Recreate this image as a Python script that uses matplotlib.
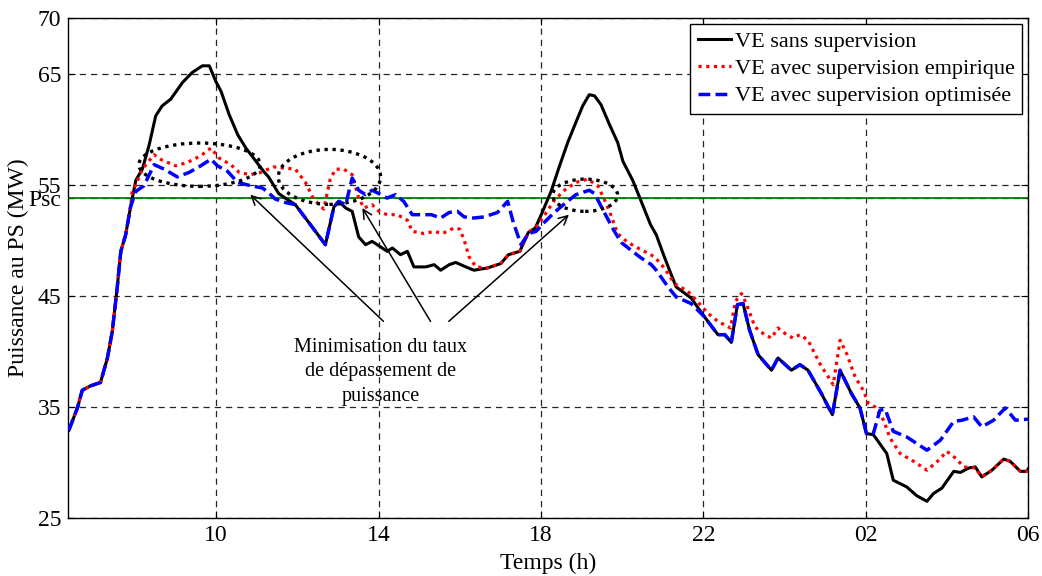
"""
Puissance au poste source - comparaison des strategies de supervision VE
"""
import matplotlib
matplotlib.use("Agg")
import matplotlib.pyplot as plt
from matplotlib.patches import Ellipse

# ==========================================================
# Data (hours since midnight, 24..30 = next morning)
# ==========================================================
t_common = [6.37, 6.58, 6.70, 6.91, 7.15, 7.32, 7.44, 7.56, 7.65, 7.77, 7.89]
p_common = [32.9, 34.9, 36.5, 36.9, 37.2, 39.4, 41.8, 45.7, 49.0, 50.5, 53.0]

t_sans = [8.02, 8.18, 8.35, 8.51, 8.67, 8.88, 9.17, 9.41, 9.66, 9.83, 9.99,
          10.12, 10.32, 10.53, 10.73, 10.98, 11.19, 11.29, 11.54, 11.70, 11.95,
          12.28, 12.69, 12.90, 13.02, 13.19, 13.35, 13.51, 13.68, 13.84, 14.05,
          14.21, 14.34, 14.54, 14.71, 14.87, 15.16, 15.37, 15.53, 15.74, 15.90,
          16.15, 16.35, 16.68, 17.01, 17.20, 17.48, 17.69, 17.86, 18.02, 18.25,
          18.45, 18.66, 18.86, 19.03, 19.19, 19.32, 19.48, 19.69, 19.89, 20.02,
          20.26, 20.47, 20.70, 20.84, 21.04, 21.33, 21.70, 22.03, 22.36, 22.53,
          22.69, 22.84, 22.98, 23.14, 23.35, 23.68, 23.84, 24.17, 24.38, 24.58,
          24.91, 25.18, 25.37, 25.65, 25.86, 26.02, 26.19, 26.52, 26.68, 27.01,
          27.26, 27.51, 27.67, 27.88, 28.17, 28.33, 28.54, 28.70, 28.86, 29.11,
          29.40, 29.56, 29.81, 29.98, 30.0]
p_sans = [55.4, 56.4, 58.6, 61.2, 62.1, 62.7, 64.2, 65.1, 65.7, 65.7, 64.3,
          63.4, 61.3, 59.5, 58.3, 57.1, 56.1, 55.7, 54.2, 53.8, 53.2,
          51.6, 49.6, 53.0, 53.5, 52.9, 52.6, 50.3, 49.6, 49.9, 49.4,
          49.0, 49.3, 48.7, 49.0, 47.6, 47.6, 47.8, 47.3, 47.8, 48.0,
          47.6, 47.3, 47.5, 47.9, 48.7, 49.0, 50.7, 51.1, 52.4, 54.4,
          56.6, 58.8, 60.6, 62.1, 63.1, 63.0, 62.2, 60.4, 58.8, 57.1,
          55.4, 53.5, 51.4, 50.5, 48.5, 45.8, 44.8, 43.1, 41.5, 41.5,
          40.8, 44.2, 44.3, 41.9, 39.7, 38.3, 39.4, 38.3, 38.8, 38.3,
          36.2, 34.3, 38.3, 36.2, 34.9, 32.6, 32.5, 30.8, 28.4, 27.8,
          27.0, 26.5, 27.2, 27.7, 29.2, 29.1, 29.5, 29.6, 28.7, 29.3,
          30.3, 30.1, 29.2, 29.2, 29.4]

t_emp = [7.93, 8.02, 8.18, 8.47, 8.67, 9.0, 9.29, 9.62, 9.87, 10.07, 10.36,
         10.57, 10.84, 11.09, 11.41, 11.66, 11.95, 12.20, 12.40, 12.65, 12.81,
         12.94, 13.14, 13.35, 13.51, 13.64, 13.84, 14.01, 14.21, 14.46, 14.71,
         14.83, 15.12, 15.37, 15.57, 15.86, 16.0, 16.11, 16.23, 16.40, 16.68,
         17.01, 17.20, 17.48, 17.69, 17.88, 18.08, 18.33, 18.58, 18.86, 19.15,
         19.40, 19.56, 19.73, 19.89, 20.14, 20.39, 20.60, 20.80, 21.04, 21.29,
         21.62, 21.83, 22.12, 22.36, 22.67, 22.79, 22.94, 23.06, 23.27, 23.51,
         23.68, 23.84, 24.05, 24.21, 24.38, 24.58, 24.87, 25.20, 25.37, 25.53,
         25.74, 25.94, 26.07, 26.23, 26.44, 26.60, 26.85, 27.18, 27.51, 27.80,
         28.0, 28.21, 28.42, 28.70, 28.86, 29.11, 29.40, 29.56, 29.81, 29.98,
         30.0]
p_emp = [54.4, 55.0, 56.4, 57.7, 57.2, 56.7, 57.0, 57.6, 58.3, 57.4, 56.8,
         56.1, 55.9, 56.1, 56.6, 56.5, 56.4, 55.2, 53.7, 52.8, 55.5,
         56.4, 56.4, 55.9, 53.8, 52.9, 53.2, 52.6, 52.3, 52.3, 51.8,
         50.8, 50.6, 50.8, 50.6, 51.1, 51.0, 50.0, 48.5, 47.6, 47.5,
         47.9, 48.7, 49.0, 50.7, 51.2, 52.2, 53.6, 54.5, 55.2, 55.5,
         54.9, 53.7, 52.2, 50.6, 49.8, 49.3, 48.9, 48.5, 47.5, 46.1,
         45.4, 44.6, 43.4, 42.7, 42.1, 44.5, 45.2, 44.3, 42.2, 41.5,
         41.2, 42.1, 41.5, 41.2, 41.5, 41.0, 38.9, 37.0, 41.0, 39.8,
         37.7, 36.5, 35.3, 35.0, 33.8, 32.2, 30.8, 30.1, 29.3, 30.2,
         31.0, 30.4, 29.6, 29.5, 28.7, 29.3, 30.3, 30.1, 29.2, 29.2,
         29.4]

t_opt = [8.02, 8.22, 8.47, 8.72, 9.04, 9.33, 9.62, 9.87, 10.03, 10.28, 10.53,
         10.86, 11.14, 11.25, 11.46, 11.70, 11.95, 12.28, 12.69, 12.90, 13.02,
         13.19, 13.35, 13.51, 13.68, 13.84, 14.01, 14.21, 14.42, 14.62, 14.83,
         15.08, 15.30, 15.53, 15.74, 15.94, 16.11, 16.35, 16.60, 16.93, 17.18,
         17.32, 17.51, 17.69, 17.88, 18.08, 18.33, 18.62, 18.86, 19.19, 19.32,
         19.56, 19.81, 19.98, 20.22, 20.47, 20.72, 20.84, 21.13, 21.33, 21.70,
         22.03, 22.36, 22.53, 22.69, 22.84, 22.98, 23.14, 23.35, 23.68, 23.84,
         24.17, 24.38, 24.58, 24.91, 25.18, 25.37, 25.65, 25.86, 26.02, 26.19,
         26.35, 26.48, 26.68, 27.01, 27.26, 27.51, 27.84, 28.17, 28.37, 28.66,
         28.86, 29.15, 29.44, 29.69, 30.0]
p_opt = [54.4, 54.9, 56.8, 56.4, 55.7, 56.1, 56.7, 57.3, 56.7, 56.2, 55.2,
         54.9, 54.7, 54.4, 53.7, 53.4, 53.2, 51.6, 49.6, 53.0, 53.5,
         53.2, 55.6, 54.5, 54.1, 54.5, 54.2, 53.8, 54.1, 53.5, 52.3,
         52.3, 52.3, 52.0, 52.5, 52.6, 52.1, 52.0, 52.1, 52.5, 53.5,
         51.6, 49.6, 50.6, 50.8, 51.6, 52.5, 53.4, 54.1, 54.5, 54.2,
         52.5, 50.8, 49.8, 49.1, 48.4, 47.8, 47.3, 45.8, 44.9, 44.3,
         43.1, 41.5, 41.5, 40.8, 44.2, 44.3, 41.9, 39.7, 38.3, 39.4,
         38.3, 38.8, 38.3, 36.2, 34.3, 38.3, 36.2, 34.9, 32.6, 32.6,
         34.7, 34.8, 32.8, 32.3, 31.7, 31.1, 32.0, 33.7, 33.8, 34.1,
         33.2, 33.8, 34.9, 33.8, 33.9]

psc = 53.8
x_ticks = [10, 14, 18, 22, 26, 30]
x_ticklabels = ["10", "14", "18", "22", "02", "06"]
y_ticks = [25, 35, 45, psc, 55, 65, 70]
y_ticklabels = ["25", "35", "45", "Psc", "55", "65", "70"]

# zones entourees (centre x, centre y, largeur, hauteur)
zones = [(9.59, 56.8, 2.99, 3.9), (12.79, 55.7, 2.52, 4.95), (19.09, 54.05, 1.6, 2.9)]
note = "Minimisation du taux\nde dépassement de\npuissance"

plt.rcParams["font.family"] = ["Liberation Serif", "DejaVu Serif"]

# Setting Fig
fig = plt.figure(figsize=(10.42, 5.76), dpi=100)
ax = fig.add_axes([0.0653, 0.1007, 0.9213, 0.868])

# ==========================================================
# Curves
# ==========================================================
ax.plot(t_common + t_sans, p_common + p_sans, color="black", lw=2.2,
        label="VE sans supervision", zorder=3)
ax.plot(t_common + t_emp, p_common + p_emp, color="red", lw=2.3,
        linestyle=(0, (1, 1.4)), label="VE avec supervision empirique", zorder=4)
ax.plot(t_common + t_opt, p_common + p_opt, color="blue", lw=2.5,
        linestyle=(0, (3.4, 1.5)), label="VE avec supervision optimisée", zorder=5)

# Psc limit
ax.axhline(psc, color="green", lw=1.3, zorder=2)

# Ellipses
for cx, cy, w, h in zones:
    ax.add_patch(Ellipse((cx, cy), w, h, fill=False, edgecolor="black",
                         lw=2.4, linestyle=(0, (1, 1.4)), zorder=6))

# Annotation
ax.text(14.05, 38.15, note, ha="center", va="center", fontsize=14.5,
        linespacing=1.4, zorder=7)
arrows = [((14.12, 42.7), (10.84, 54.1)),
          ((15.28, 42.7), (13.60, 52.9)),
          ((15.73, 42.7), (18.69, 52.3))]
for tail, head in arrows:
    ax.annotate("", xy=head, xytext=tail,
                arrowprops=dict(arrowstyle="->", color="black", lw=1.1,
                                mutation_scale=16, shrinkA=0, shrinkB=0),
                zorder=7)

# Axes
ax.set_xlim(6.35, 30)
ax.set_ylim(25, 70)
ax.set_xticks(x_ticks)
ax.set_xticklabels(x_ticklabels)
ax.set_yticks(y_ticks)
ax.set_yticklabels(y_ticklabels)
ax.tick_params(direction="in", top=True, right=True, labelsize=17, length=5,
               pad=5)
ax.grid(True, color="0.15", linestyle=(0, (5, 4)), lw=0.9)
ax.set_xlabel("Temps (h)", fontsize=17, labelpad=5)
ax.set_ylabel("Puissance au PS (MW)", fontsize=17)
ax.yaxis.set_label_coords(-0.041, 0.5)
for s in ax.spines.values():
    s.set_linewidth(1.0)

leg = ax.legend(loc="upper right", fontsize=16, handlelength=1.5,
                handletextpad=0.15, borderaxespad=0.25, fancybox=False,
                framealpha=1, edgecolor="black", labelspacing=0.3,
                borderpad=0.35)
leg.get_frame().set_linewidth(1.0)

fig.savefig("out.png", dpi=100)
